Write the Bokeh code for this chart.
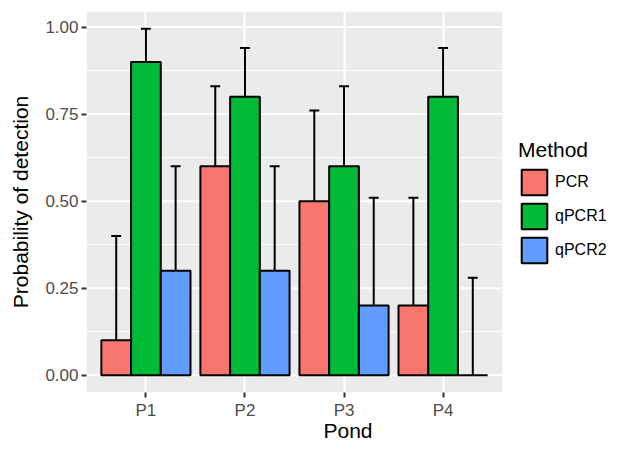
from bokeh.plotting import figure
from bokeh.models import Range1d, FixedTicker, Legend, LegendItem, NumeralTickFormatter
from bokeh.embed import file_html
from bokeh.resources import INLINE

ponds = ["P1", "P2", "P3", "P4"]
methods = ["PCR", "qPCR1", "qPCR2"]
pcr = [0.1, 0.6, 0.5, 0.2]
qpcr1 = [0.9, 0.8, 0.6, 0.8]
qpcr2 = [0.3, 0.3, 0.2, 0.0]
pcr_upper = [0.40, 0.83, 0.76, 0.51]
qpcr1_upper = [0.995, 0.94, 0.83, 0.94]
qpcr2_upper = [0.60, 0.60, 0.51, 0.28]
y_ticks = [0.0, 0.25, 0.5, 0.75, 1.0]
y_minor = [0.125, 0.375, 0.625, 0.875]
colors = ["#F8766D", "#00BA38", "#619CFF"]

values = [pcr, qpcr1, qpcr2]
uppers = [pcr_upper, qpcr1_upper, qpcr2_upper]

FONT = "Liberation Sans"
BAR_W = 0.3
CAP_W = 0.1

# layout constants
W, H = 609, 444
LEFT, TOP, BOTTOM = 86, 11, 52
PANEL_PX = 416
X0, X1 = 0.4, 4.6
Y0, Y1 = -0.04975, 1.04475
px_per_unit = PANEL_PX / (X1 - X0)
frame_px = W - LEFT
x_end = X0 + frame_px / px_per_unit

p = figure(width=W, height=H, output_backend="svg", toolbar_location=None,
           x_range=Range1d(X0, x_end), y_range=Range1d(Y0, Y1),
           min_border_left=LEFT, min_border_right=0, min_border_top=TOP, min_border_bottom=BOTTOM,
           background_fill_color="white", border_fill_color="white")
p.outline_line_color = None

# grey panel
p.quad(left=[X0], right=[X1], bottom=[Y0], top=[Y1], fill_color="#EBEBEB",
       line_color=None, level="image")
# horizontal grid limited to the panel
p.segment(x0=[X0] * len(y_minor), x1=[X1] * len(y_minor), y0=y_minor, y1=y_minor,
          line_color="white", line_width=1, level="underlay")
p.segment(x0=[X0] * len(y_ticks), x1=[X1] * len(y_ticks), y0=y_ticks, y1=y_ticks,
          line_color="white", line_width=2, level="underlay")

centers = [i + 1 for i in range(len(ponds))]

for j, (vals, ups) in enumerate(zip(values, uppers)):
    xs = [c + (j - 1) * BAR_W for c in centers]
    p.segment(x0=xs, y0=vals, x1=xs, y1=ups, line_color="black", line_width=2)
    p.segment(x0=[x - CAP_W / 2 for x in xs], y0=ups, x1=[x + CAP_W / 2 for x in xs], y1=ups,
              line_color="black", line_width=2)

renderers = []
for j, (vals, col) in enumerate(zip(values, colors)):
    xs = [c + (j - 1) * BAR_W for c in centers]
    r = p.vbar(x=xs, top=vals, bottom=0, width=BAR_W, fill_color=col,
               line_color="black", line_width=2)
    renderers.append(r)

# axes
p.xaxis.ticker = FixedTicker(ticks=centers)
p.xaxis.major_label_overrides = {c: name for c, name in zip(centers, ponds)}
p.yaxis.ticker = FixedTicker(ticks=y_ticks, minor_ticks=y_minor)
p.yaxis.formatter = NumeralTickFormatter(format="0.00")

for ax in (p.xaxis[0], p.yaxis[0]):
    ax.axis_line_color = None
    ax.major_tick_line_color = "#333333"
    ax.major_tick_line_width = 2
    ax.major_tick_in = 0
    ax.major_tick_out = 5
    ax.minor_tick_line_color = None
    ax.major_label_text_font = FONT
    ax.major_label_text_font_size = "17px"
    ax.major_label_text_color = "#4D4D4D"
    ax.axis_label_text_font = FONT
    ax.axis_label_text_font_size = "21px"
    ax.axis_label_text_font_style = "normal"
    ax.axis_label_text_color = "black"

p.xaxis.axis_label = "Pond"
p.yaxis.axis_label = "Probability of detection"
p.xaxis.axis_label_text_align = "center"
p.xaxis.major_label_standoff = 3
p.xaxis.axis_label_standoff = -4
p.yaxis.major_label_standoff = 3
p.yaxis.axis_label_standoff = 10

p.xgrid.grid_line_color = "white"
p.xgrid.grid_line_width = 2
p.ygrid.grid_line_color = None

frame_h = H - TOP - BOTTOM
legend = Legend(items=[LegendItem(label=m, renderers=[r]) for m, r in zip(methods, renderers)],
                location=(PANEL_PX + 16, (frame_h - 129) // 2), title="Method")
legend.title_text_font = FONT
legend.title_text_font_size = "21px"
legend.title_text_font_style = "normal"
legend.title_text_color = "black"
legend.title_standoff = 4
legend.label_text_font = FONT
legend.label_text_font_size = "16px"
legend.label_text_color = "black"
legend.glyph_width = 32
legend.glyph_height = 32
legend.label_height = 32
legend.spacing = 2
legend.label_standoff = 5
legend.padding = 0
legend.margin = 0
legend.border_line_color = None
legend.background_fill_alpha = 0
p.add_layout(legend)

open("out.html", "w").write(file_html(p, INLINE))
